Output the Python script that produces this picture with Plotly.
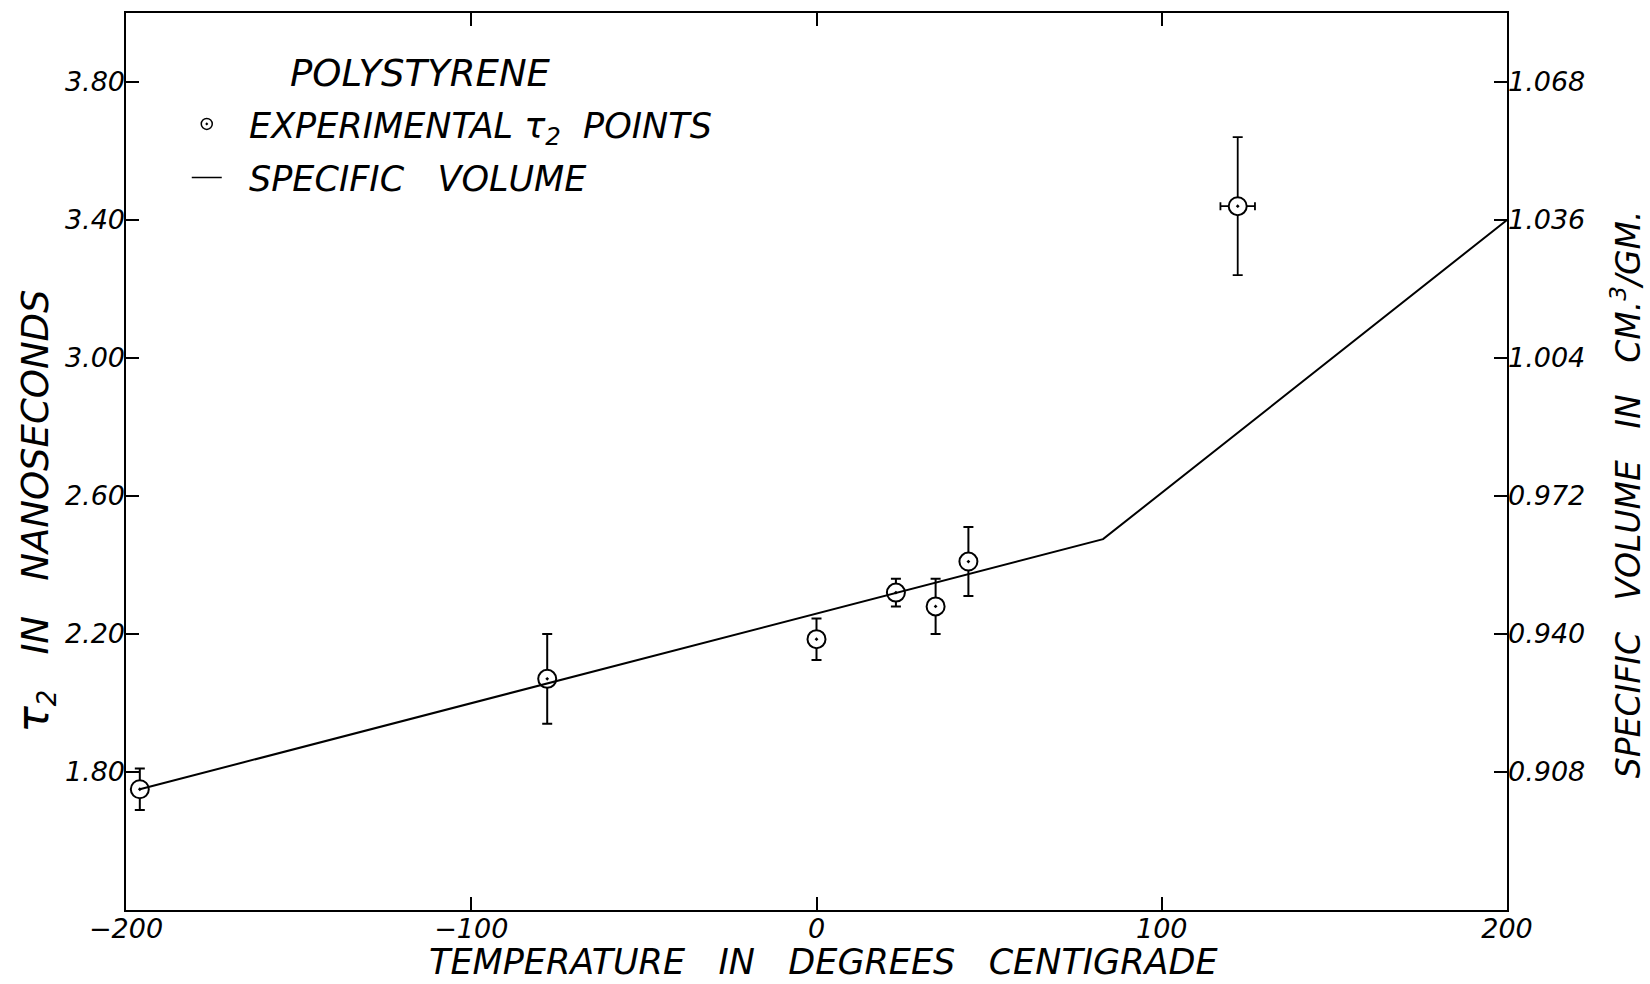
import plotly.graph_objects as go

# Positron lifetime (tau2) measurements in polystyrene
temp_c = [-196, -78, 0, 23, 34.5, 44]
tau2_ns = [1.75, 2.07, 2.185, 2.32, 2.28, 2.41]
tau2_err = [0.06, 0.13, 0.06, 0.04, 0.08, 0.10]

# High-temperature point, with a temperature uncertainty as well
hot_temp_c = [122]
hot_tau2_ns = [3.44]
hot_tau2_err = [0.20]
hot_temp_err = [5]

# Specific volume curve (glass transition near 83 C)
sv_temp_c = [-196, 83, 200]
sv_cm3_per_g = [0.904, 0.962, 1.036]

# Axis ticks
x_ticks = [-200, -100, 0, 100, 200]
tau_ticks = [1.80, 2.20, 2.60, 3.00, 3.40, 3.80]
sv_ticks = [0.908, 0.940, 0.972, 1.004, 1.036, 1.068]

T_RANGE = [-200, 200]
TAU_RANGE = [1.40, 4.00]
SV_RANGE = [0.876, 1.084]

INK = "black"
FONT = "DejaVu Sans"
SP = "\u00a0"


def tick_font(size=27, color=INK):
    return dict(family=FONT, size=size, color=color, style="italic")


def spaced(*words, gap=2):
    return (SP * gap).join(words)


marker_style = dict(symbol="circle-dot", size=18, color="white",
                    line=dict(color=INK, width=2))

fig = go.Figure()

# specific volume against the right-hand scale
fig.add_trace(go.Scatter(
    x=sv_temp_c, y=sv_cm3_per_g, xaxis="x2", yaxis="y3", mode="lines",
    line=dict(color=INK, width=2), showlegend=False,
))

fig.add_trace(go.Scatter(
    x=temp_c, y=tau2_ns, xaxis="x2", yaxis="y2", mode="markers",
    marker=marker_style,
    error_y=dict(type="data", array=tau2_err, color=INK, thickness=2, width=5),
    showlegend=False,
))

# plotted against the top temperature scale (identical to the bottom one)
fig.add_trace(go.Scatter(
    x=hot_temp_c, y=hot_tau2_ns, xaxis="x3", yaxis="y2", mode="markers",
    marker=marker_style,
    error_y=dict(type="data", array=hot_tau2_err, color=INK, thickness=1.8, width=5),
    error_x=dict(type="data", array=hot_temp_err, color=INK, thickness=1.8, width=4),
    showlegend=False,
))

# Legend entries
fig.add_trace(go.Scatter(
    x=[None], y=[None], mode="markers",
    marker=dict(symbol="circle-dot", size=11, color="white",
                line=dict(color=INK, width=1.5)),
    name=SP * 2 + "EXPERIMENTAL" + SP + "τ<sub>2</sub>" + SP * 2 + "POINTS",
    legendgroup="a",
))
fig.add_trace(go.Scatter(
    x=[None], y=[None], mode="lines", line=dict(color=INK, width=1.5),
    name=SP * 2 + spaced("SPECIFIC", "VOLUME", gap=3), legendgroup="b",
))

# frame: plain lines on all four sides
frame = dict(showgrid=False, zeroline=False, showline=True, linecolor=INK,
             linewidth=2, mirror=True, ticks="", showticklabels=False,
             automargin=False)

# scales: inward tick marks and italic labels
scale = dict(showgrid=False, zeroline=False, showline=False, ticks="inside",
             ticklen=13, tickwidth=2, tickcolor=INK, tickfont=tick_font(),
             automargin=False)

fig.update_layout(
    width=1650, height=984, autosize=False,
    margin=dict(l=126, r=143, t=13, b=74),
    paper_bgcolor="white", plot_bgcolor="white",
    xaxis=dict(range=T_RANGE, **frame),
    yaxis=dict(range=TAU_RANGE, **frame),
    xaxis2=dict(range=T_RANGE, tickvals=x_ticks, overlaying="x",
                anchor="y", side="bottom", **scale),
    xaxis3=dict(range=T_RANGE, tickvals=x_ticks, ticktext=[SP] * len(x_ticks),
                overlaying="x", anchor="y", side="top", **scale),
    yaxis2=dict(range=TAU_RANGE, tickvals=tau_ticks, tickformat=".2f",
                overlaying="y", anchor="x", side="left", **scale),
    yaxis3=dict(range=SV_RANGE, tickvals=sv_ticks, tickformat=".3f",
                overlaying="y", anchor="x", side="right", **scale),
    legend=dict(x=0.044, y=0.909, xanchor="left", yanchor="top",
                bgcolor="rgba(0,0,0,0)", font=tick_font(35),
                tracegroupgap=5, itemwidth=30),
    annotations=[
        dict(text="POLYSTYRENE", xref="paper", yref="paper",
             x=0.2136, y=0.9325, xanchor="center", yanchor="middle",
             showarrow=False, font=tick_font(37)),
        dict(text=spaced("TEMPERATURE", "IN", "DEGREES", "CENTIGRADE", gap=3),
             xref="paper", yref="paper", x=0.505, y=-0.058,
             xanchor="center", yanchor="middle", showarrow=False,
             font=tick_font(35)),
        dict(text=spaced('<span style="font-size:44px">τ</span><sub>2</sub>',
                         "IN", "NANOSECONDS", gap=3),
             xref="paper", yref="paper", x=-0.0659, y=0.445,
             xanchor="center", yanchor="middle", textangle=-90,
             showarrow=False, font=tick_font(37)),
        dict(text=spaced("SPECIFIC", "VOLUME", "IN", "CM.<sup>3</sup>/GM.", gap=3),
             xref="paper", yref="paper", x=1.0865, y=0.464,
             xanchor="center", yanchor="middle", textangle=-90,
             showarrow=False, font=tick_font(33)),
    ],
)

fig.write_html("out.html")
